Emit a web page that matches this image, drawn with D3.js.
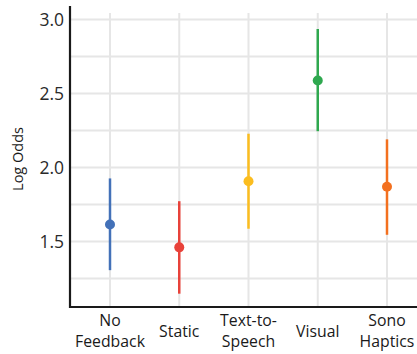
<!DOCTYPE html>
<html>
<head>
<meta charset="utf-8">
<script src="https://cdn.jsdelivr.net/npm/d3@7"></script>
<style>
  body { margin: 0; background: #fff; }
  text { font-family: "Open Sans", sans-serif; }
</style>
</head>
<body>
<div id="chart"></div>
<script>
const categories = ["No Feedback", "Static", "Text-to-Speech", "Visual", "Sono Haptics"];
const labelLines = [["No", "Feedback"], ["Static"], ["Text-to-", "Speech"], ["Visual"], ["Sono", "Haptics"]];
const estimates = [1.615, 1.46, 1.907, 2.588, 1.87];
const lower = [1.306, 1.147, 1.586, 2.245, 1.545];
const upper = [1.926, 1.772, 2.228, 2.936, 2.19];
const colors = ["#4371b8", "#e8423a", "#fbbd1f", "#2fa84f", "#f3701f"];
const yTicks = [1.5, 2.0, 2.5, 3.0];
const gridTicks = [1.25, 1.5, 1.75, 2.0, 2.25, 2.5, 2.75, 3.0];

const W = 417, H = 354;
const left = 70, bottom = 307, right = 417;

const svg = d3.select("#chart")
    .append("svg")
    .attr("width", W)
    .attr("height", H);

const y = d3.scaleLinear()
    .domain([1.057, 3.0])
    .range([bottom, 19.5]);

const x = d3.scalePoint()
    .domain(categories)
    .range([110, 387]);

// grid
svg.append("g")
    .selectAll("line")
    .data(gridTicks)
    .enter().append("line")
    .attr("x1", left).attr("x2", right)
    .attr("y1", d => y(d)).attr("y2", d => y(d))
    .style("stroke", "#e6e6e6")
    .style("stroke-width", 2);

svg.append("g")
    .selectAll("line")
    .data(categories)
    .enter().append("line")
    .attr("x1", d => x(d)).attr("x2", d => x(d))
    .attr("y1", bottom).attr("y2", 13)
    .style("stroke", "#e6e6e6")
    .style("stroke-width", 2);

// error bars
const data = categories.map((c, i) => ({ c, est: estimates[i], lo: lower[i], hi: upper[i], col: colors[i] }));

svg.append("g")
    .selectAll("line")
    .data(data)
    .enter().append("line")
    .attr("x1", d => x(d.c)).attr("x2", d => x(d.c))
    .attr("y1", d => y(d.lo)).attr("y2", d => y(d.hi))
    .style("stroke", d => d.col)
    .style("stroke-width", 2.5);

svg.append("g")
    .selectAll("circle")
    .data(data)
    .enter().append("circle")
    .attr("cx", d => x(d.c))
    .attr("cy", d => y(d.est))
    .attr("r", 5)
    .style("fill", d => d.col);

// axes
svg.append("line")
    .attr("x1", left).attr("x2", left)
    .attr("y1", 6).attr("y2", bottom + 1)
    .style("stroke", "#1a1a1a")
    .style("stroke-width", 2.2);

svg.append("line")
    .attr("x1", left - 1).attr("x2", right)
    .attr("y1", bottom).attr("y2", bottom)
    .style("stroke", "#1a1a1a")
    .style("stroke-width", 2.2);

svg.append("g")
    .selectAll("text")
    .data(yTicks)
    .enter().append("text")
    .attr("x", left - 6)
    .attr("y", d => y(d))
    .attr("dy", "0.36em")
    .style("text-anchor", "end")
    .style("font-size", "17.5px")
    .style("fill", "#2a2a2a")
    .text(d => d.toFixed(1));

const xl = svg.append("g")
    .selectAll("text")
    .data(categories)
    .enter().append("text")
    .attr("x", d => x(d))
    .attr("y", (d, i) => labelLines[i].length > 1 ? 326 : 336.5)
    .style("text-anchor", "middle")
    .style("font-size", "15.8px")
    .style("fill", "#1a1a1a");

xl.selectAll("tspan")
    .data((d, i) => labelLines[i])
    .enter().append("tspan")
    .attr("x", function () { return this.parentNode.getAttribute("x"); })
    .attr("dy", (d, j) => j === 0 ? 0 : 20.5)
    .text(d => d);

svg.append("text")
    .attr("transform", "translate(23,159) rotate(-90)")
    .style("text-anchor", "middle")
    .style("font-size", "14.5px")
    .style("fill", "#1a1a1a")
    .text("Log Odds");
</script>
</body>
</html>
